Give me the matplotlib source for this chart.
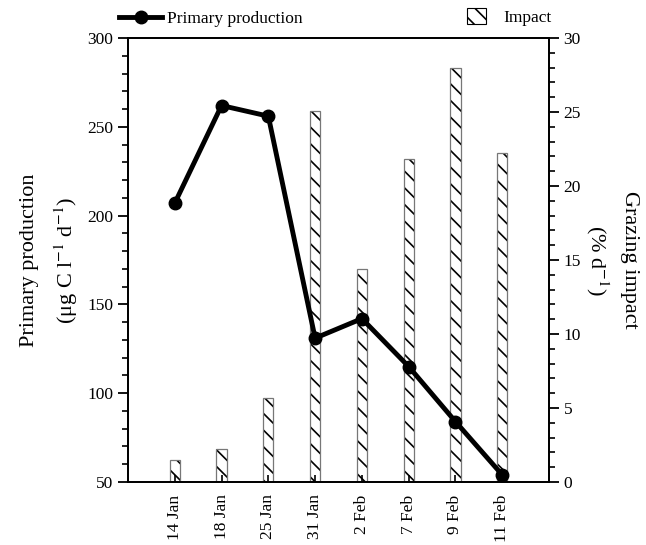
import matplotlib.pyplot as plt
import numpy as np
from matplotlib.ticker import MultipleLocator
from matplotlib.patches import Patch
from matplotlib.lines import Line2D

plt.rcParams['font.family'] = ['Liberation Serif', 'DejaVu Serif']
plt.rcParams['mathtext.fontset'] = 'stix'
plt.rcParams['hatch.linewidth'] = 1.2

# Sampling dates
dates = ['14 Jan', '18 Jan', '25 Jan', '31 Jan', '2 Feb', '7 Feb', '9 Feb', '11 Feb']

# Primary production (ug C l-1 d-1)
production = [207, 262, 256, 131, 142, 115, 84, 54]

# Grazing impact (% d-1)
impact = [1.5, 2.2, 5.7, 25.1, 14.4, 21.8, 28.0, 22.2]

x = np.arange(len(dates))

fig = plt.figure(figsize=(6.46, 5.45), dpi=100)
ax = fig.add_axes([0.1981, 0.1156, 0.6518, 0.8146])
ax2 = ax.twinx()

# bars: hatch in black, thin grey outline on top
ax2.bar(x, impact, width=0.22, color='white', edgecolor='black', linewidth=0, hatch='\\\\')
ax2.bar(x, impact, width=0.22, fill=False, edgecolor='#777777', linewidth=0.9)

# put the line above the bars
ax.set_zorder(ax2.get_zorder() + 1)
ax.patch.set_visible(False)
ax.plot(x, production, color='black', linewidth=3.5, marker='o', markersize=9)

ax.set_xlim(-1, 8)
ax.set_ylim(50, 300)
ax2.set_ylim(0, 30)

ax.set_xticks(x)
ax.set_xticklabels(dates, rotation=90, fontsize=12.5, va='top')
ax.tick_params(axis='x', direction='in', length=5, width=1.2, pad=9)

ax.yaxis.set_major_locator(MultipleLocator(50))
ax.yaxis.set_minor_locator(MultipleLocator(10))
ax.tick_params(axis='y', which='major', length=7, width=1.3, labelsize=12.5)
ax.tick_params(axis='y', which='minor', length=4, width=1.2)

ax2.yaxis.set_major_locator(MultipleLocator(5))
ax2.yaxis.set_minor_locator(MultipleLocator(1))
ax2.tick_params(axis='y', which='major', length=7, width=1.3, labelsize=12.5)
ax2.tick_params(axis='y', which='minor', length=4, width=1.2)

for a in (ax, ax2):
    for s in a.spines.values():
        s.set_linewidth(1.3)

ax.set_ylabel('Primary production\n(μg C l$^{-1}$ d$^{-1}$)', fontsize=16, labelpad=5,
              linespacing=1.7)
ax2.set_ylabel('Grazing impact\n(% d$^{-1}$)', fontsize=16, rotation=270, labelpad=42,
               linespacing=1.5)

# legends above the plot
line_handle = Line2D([], [], color='black', linewidth=3.5, marker='o', markersize=9)
bar_handle = Patch(facecolor='white', edgecolor='black', linewidth=0.8, hatch='\\\\')
fig.legend([line_handle], ['Primary production'], loc='center left',
           bbox_to_anchor=(0.184, 0.966), frameon=False, fontsize=12.5,
           borderpad=0, borderaxespad=0, handlelength=2.5, handletextpad=0.3)
fig.legend([bar_handle], ['Impact'], loc='center left',
           bbox_to_anchor=(0.723, 0.969), frameon=False, fontsize=12.5,
           borderpad=0, borderaxespad=0, handlelength=1.1, handleheight=1.1,
           handletextpad=1.0)

plt.savefig('out.png')
